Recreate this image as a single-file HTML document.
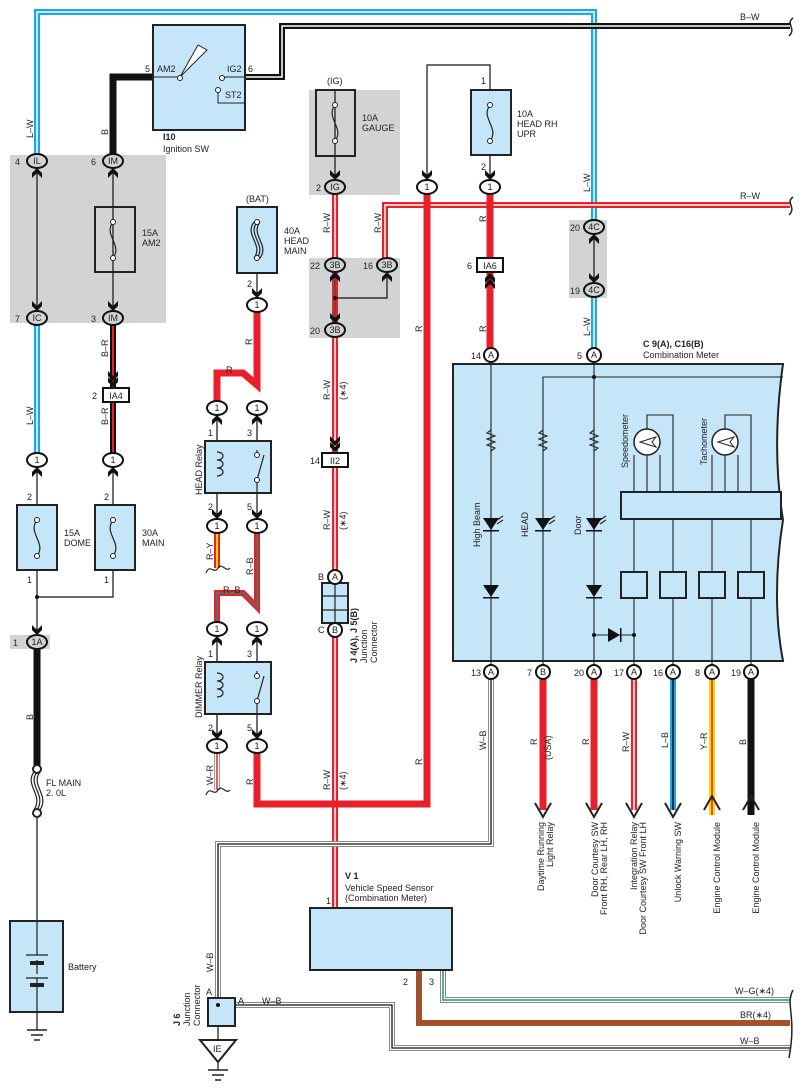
<!DOCTYPE html>
<html><head><meta charset="utf-8"><style>
html,body{margin:0;padding:0;background:#fff}
svg{display:block}
text{font-family:"Liberation Sans",sans-serif;font-size:9px;fill:#222}
.b{font-weight:bold}
</style></head><body>
<svg width="802" height="1091" viewBox="0 0 802 1091" xmlns="http://www.w3.org/2000/svg">
<defs>
<path id="ad" d="M-5,-10 L0,-5 L5,-10 L5,-5 L0,0 L-5,-5Z" fill="#111"/>
<path id="au" d="M-5,10 L0,5 L5,10 L5,5 L0,0 L-5,5Z" fill="#111"/>
</defs>
<rect x="10" y="155" width="156" height="168" fill="#d2d3d5"/>
<rect x="10" y="635" width="40" height="14" fill="#d2d3d5"/>
<rect x="309" y="90" width="91" height="105" fill="#d2d3d5"/>
<rect x="309" y="258" width="91" height="80" fill="#d2d3d5"/>
<rect x="569" y="220" width="38" height="78" fill="#d2d3d5"/>

<g fill="none" stroke-linejoin="miter">
<path d="M37,161 V12 H594 V227" stroke="#1ba6e8" stroke-width="6"/>
<path d="M37,161 V12 H594 V227" stroke="#fff" stroke-width="1.5"/>
<path d="M37,318 V460" stroke="#1ba6e8" stroke-width="6"/><path d="M37,318 V460" stroke="#fff" stroke-width="1.5"/>
<path d="M594,290 V355" stroke="#1ba6e8" stroke-width="6"/><path d="M594,290 V355" stroke="#fff" stroke-width="1.5"/>
<path d="M245,77 H282 V26 H790" stroke="#111" stroke-width="6"/>
<path d="M245,77 H282 V26 H790" stroke="#fff" stroke-width="1.5"/>
<path d="M153,77 H113 V161" stroke="#111" stroke-width="7"/>
<path d="M37,642 V765" stroke="#111" stroke-width="7"/>
<path d="M113,318 V460" stroke="#111" stroke-width="6"/><path d="M113,318 V460" stroke="#e8202a" stroke-width="2"/>
<path d="M335,187 V908" stroke="#e8202a" stroke-width="6"/><path d="M335,187 V908" stroke="#fff" stroke-width="1.5"/>
<path d="M385,265 V205 H790" stroke="#e8202a" stroke-width="6"/><path d="M385,265 V205 H790" stroke="#fff" stroke-width="1.5"/>
<path d="M257,305 V385 L243,373 H217 V408" stroke="#e8202a" stroke-width="7"/>
<path d="M257,746 V804 H427 V187" stroke="#e8202a" stroke-width="7"/>
<path d="M490,187 V355" stroke="#e8202a" stroke-width="7"/>
<path d="M217,526 V568" stroke="#e8202a" stroke-width="6"/><path d="M217,526 V568" stroke="#ffd800" stroke-width="2"/>
<path d="M217,746 V790" stroke="#999" stroke-width="6"/><path d="M217,746 V790" stroke="#fff" stroke-width="4"/><path d="M217,746 V790" stroke="#e8202a" stroke-width="1.5"/>
<path d="M257,526 V607 L243,593 H217 V629" stroke="#e8202a" stroke-width="6"/><path d="M257,526 V607 L243,593 H217 V629" stroke="#666" stroke-width="2"/>
<path d="M491,672 V844 H218 V1000" stroke="#888" stroke-width="6"/><path d="M491,672 V844 H218 V1000" stroke="#fff" stroke-width="4"/><path d="M491,672 V844 H218 V1000" stroke="#111" stroke-width="1.3"/>
<path d="M222,1005 H392 V1048 H790" stroke="#888" stroke-width="6"/><path d="M222,1005 H392 V1048 H790" stroke="#fff" stroke-width="4"/><path d="M222,1005 H392 V1048 H790" stroke="#111" stroke-width="1.3"/>
<path d="M443,970 V1000 H790" stroke="#888" stroke-width="6"/><path d="M443,970 V1000 H790" stroke="#fff" stroke-width="4"/><path d="M443,970 V1000 H790" stroke="#1a9f4a" stroke-width="1.5"/>
<path d="M419,970 V1023 H790" stroke="#a0522d" stroke-width="6"/>
<g stroke="#111" stroke-width="1.2">
<path d="M37,161 V318"/><path d="M113,161 V318"/>
<path d="M37,460 V642"/><path d="M113,460 V597 H37"/>
<path d="M37,813 V1030"/>
<path d="M257,207 V305"/>
<path d="M335,90 V187"/><path d="M335,265 V330"/><path d="M335,298 H387 V265"/>
<path d="M427,187 V65 H490 V187"/>
<path d="M594,227 V290"/>
<path d="M217,408 V526"/><path d="M257,408 V526"/>
<path d="M217,629 V746"/><path d="M257,629 V746"/>
<path d="M218,1000 V1040"/><path d="M218,1062 V1070"/>
</g>
</g>

<rect x="153" y="25" width="92" height="105" fill="#c5e6f8" stroke="#222" stroke-width="2"/>
<g stroke="#222" stroke-width="1" fill="none">
<path d="M153,77 H180"/><path d="M180,77 L198,45 L207,50 Z" fill="#fff"/>
<path d="M222,77 H245"/><path d="M218,92 V103 H245"/>
</g>
<circle cx="180" cy="78" r="2.5" fill="#fff" stroke="#222"/><circle cx="222" cy="78" r="2.5" fill="#fff" stroke="#222"/><circle cx="218" cy="90" r="2.5" fill="#fff" stroke="#222"/>
<text x="157" y="72">AM2</text><text x="227" y="72">IG2</text><text x="225" y="98">ST2</text>
<text x="145" y="72">5</text><text x="248" y="72">6</text>
<text x="163" y="140" class="b">I10</text><text x="163" y="152">Ignition SW</text>

<g fill="#c5e6f8" stroke="#222" stroke-width="2">
<rect x="95" y="207" width="40" height="65" fill="none"/>
<rect x="17" y="505" width="40" height="65"/>
<rect x="95" y="505" width="40" height="65"/>
<rect x="237" y="207" width="40" height="66"/>
<rect x="316" y="90" width="39" height="66" fill="none"/>
<rect x="471" y="90" width="40" height="65"/>
<rect x="205" y="441" width="66" height="52"/>
<rect x="205" y="662" width="66" height="52"/>
<rect x="322" y="583" width="26" height="40"/>
<rect x="310" y="908" width="142" height="62"/>
<rect x="208" y="998" width="27" height="28"/>
<rect x="10" y="921" width="53" height="91"/>
</g>
<g stroke="#222" stroke-width="1.2" fill="none">
<path d="M113,222 C103,235 123,245 113,258"/>
<path d="M37,520 C27,533 47,543 37,556"/>
<path d="M113,520 C103,533 123,543 113,556"/>
<path d="M335,105 C325,118 345,128 335,141"/>
<path d="M490,105 C480,118 500,128 490,141"/>
<path d="M257,222 C247,235 267,245 257,258 M254,222 C244,235 264,245 254,258 M260,222 C250,235 270,245 260,258"/>
<path d="M37,772 C27,785 47,795 37,810 M34,772 C24,785 44,795 34,810 M40,772 C30,785 50,795 40,810"/>
<path d="M335,583 V623 M322,596 H348 M322,610 H348"/>
<path d="M217,452 C225,452 225,460 217,460 C225,460 225,468 217,468 C225,468 225,476 217,476"/>
<path d="M217,673 C225,673 225,681 217,681 C225,681 225,689 217,689 C225,689 225,697 217,697"/>
<path d="M257,450 V455 M264,455 L257,480 M257,480 V493"/>
<path d="M257,671 V676 M264,676 L257,701 M257,701 V714"/>
<path d="M37,921 V955 M37,978 V1012 M26,955 H48 M26,978 H48 M37,960 V974" />
<path d="M206,573 C210,563 214,575 218,568 C222,562 226,573 230,568"/>
<path d="M206,795 C210,785 214,797 218,790 C222,784 226,795 230,790"/>
</g>
<rect x="30" y="961" width="14" height="4" fill="#222"/><rect x="30" y="983" width="14" height="4" fill="#222"/>
<g fill="#fff" stroke="#222">
<circle cx="113" cy="222" r="2.5"/><circle cx="113" cy="258" r="2.5"/>
<circle cx="37" cy="520" r="2.5"/><circle cx="37" cy="556" r="2.5"/>
<circle cx="113" cy="520" r="2.5"/><circle cx="113" cy="556" r="2.5"/>
<circle cx="335" cy="105" r="2.5"/><circle cx="335" cy="141" r="2.5"/>
<circle cx="490" cy="105" r="2.5"/><circle cx="490" cy="141" r="2.5"/>
<circle cx="257" cy="222" r="2.5"/><circle cx="257" cy="258" r="2.5"/>
<circle cx="257" cy="455" r="2.5"/><circle cx="257" cy="480" r="2.5"/>
<circle cx="257" cy="676" r="2.5"/><circle cx="257" cy="701" r="2.5"/>
<circle cx="37" cy="769" r="4" stroke-width="2"/><circle cx="37" cy="813" r="4" stroke-width="2"/>
</g>
<circle cx="37" cy="597" r="2" fill="#111"/><circle cx="335" cy="298" r="2" fill="#111"/><circle cx="218" cy="1005" r="2" fill="#111"/>
<g stroke="#222" stroke-width="1.5">
<path d="M27,1030 H47 M31,1035 H43 M34,1040 H40"/>
<path d="M208,1070 H228 M212,1075 H224 M215,1080 H221"/>
</g>
<path d="M200,1040 H236 L218,1062Z" fill="#fff" stroke="#222" stroke-width="2"/>
<text x="213" y="1052">IE</text>

<path d="M453,364 H783 C775,420 775,470 783,520 C775,570 775,620 783,661 H453Z" fill="#c5e6f8" stroke="#222" stroke-width="2"/>
<g stroke="#222" stroke-width="1.1" fill="none">
<path d="M491,355 V672"/><path d="M594,355 V672"/><path d="M543,672 V377 H783"/>
<path d="M491,430 l-4,3 8,3 -8,3 8,3 -8,3 8,3 -4,3"/>
<path d="M543,430 l-4,3 8,3 -8,3 8,3 -8,3 8,3 -4,3"/>
<path d="M594,430 l-4,3 8,3 -8,3 8,3 -8,3 8,3 -4,3"/>
<path d="M634,672 V594 M673,672 V594 M712,672 V594 M751,672 V594"/>
<path d="M634,572 V519 M673,572 V519 M712,572 V519 M751,572 V519"/>
<path d="M634,492 V455 M647,492 V415 H673 V492 M660,492 V455"/>
<path d="M712,492 V455 M725,492 V415 H751 V492 M738,492 V455"/>
<path d="M594,635 H634"/>
<path d="M497,520 l6,-4 M497,524 l6,-4 M549,520 l6,-4 M549,524 l6,-4 M600,520 l6,-4 M600,524 l6,-4"/>
</g>
<g fill="#fff" stroke="#222" stroke-width="1.5">
<circle cx="647" cy="442" r="13"/><circle cx="725" cy="442" r="13"/>
</g>
<path d="M640,442 L656,437 L652,442 L656,447Z M718,442 L734,437 L730,442 L734,447Z" fill="none" stroke="#222"/>
<rect x="621" y="492" width="160" height="27" fill="#c5e6f8" stroke="#222" stroke-width="2"/>
<g fill="#c5e6f8" stroke="#222" stroke-width="2">
<rect x="621" y="572" width="26" height="26"/><rect x="660" y="572" width="26" height="26"/><rect x="699" y="572" width="26" height="26"/><rect x="738" y="572" width="26" height="26"/>
</g>
<g fill="#111">
<path d="M483,518 H499 L491,530Z M535,518 H551 L543,530Z M586,518 H602 L594,530Z"/>
<path d="M483,585 H499 L491,597Z M586,585 H602 L594,597Z"/>
<path d="M608,628 V642 L620,635Z"/>
<rect x="483" y="530" width="16" height="1.5"/><rect x="535" y="530" width="16" height="1.5"/><rect x="586" y="530" width="16" height="1.5"/>
<rect x="483" y="597" width="16" height="1.5"/><rect x="586" y="597" width="16" height="1.5"/><rect x="620" y="628" width="1.5" height="14"/>
</g>
<circle cx="594" cy="377" r="2" fill="#111"/><circle cx="594" cy="635" r="2" fill="#111"/><circle cx="634" cy="635" r="2" fill="#111"/>
<g transform="rotate(-90)">
<text x="-547" y="480">High Beam</text><text x="-537" y="528">HEAD</text><text x="-535" y="581">Door</text>
<text x="-468" y="628">Speedometer</text><text x="-465" y="707">Tachometer</text>
</g>
<text x="643" y="347" class="b">C 9(A), C16(B)</text><text x="643" y="358">Combination Meter</text>

<g fill="none">
<path d="M543,672 V810" stroke="#e8202a" stroke-width="7"/>
<path d="M594,672 V810" stroke="#e8202a" stroke-width="7"/>
<path d="M634,672 V810" stroke="#e8202a" stroke-width="6"/><path d="M634,672 V810" stroke="#fff" stroke-width="1.5"/>
<path d="M673,672 V810" stroke="#1ba6e8" stroke-width="6"/><path d="M673,672 V810" stroke="#111" stroke-width="1.5"/>
<path d="M712,672 V815" stroke="#ffd800" stroke-width="6"/><path d="M712,672 V815" stroke="#e8202a" stroke-width="1.5"/>
<path d="M751,672 V815" stroke="#111" stroke-width="7"/>
<g stroke="#222" stroke-width="2">
<path d="M535,803 L543,817 L551,803 M586,803 L594,817 L602,803 M626,803 L634,817 L642,803 M665,803 L673,817 L681,803"/>
<path d="M704,810 L712,796 L720,810 M743,810 L751,796 L759,810"/>
</g>
</g>

<g fill="#fff" stroke="#111" stroke-width="2">
<ellipse cx="37" cy="161" rx="10" ry="7" fill="#d2d3d5"/><ellipse cx="113" cy="161" rx="10" ry="7" fill="#d2d3d5"/>
<ellipse cx="37" cy="318" rx="10" ry="7" fill="#d2d3d5"/><ellipse cx="113" cy="318" rx="10" ry="7" fill="#d2d3d5"/>
<ellipse cx="37" cy="642" rx="10" ry="7" fill="#d2d3d5"/>
<ellipse cx="335" cy="187" rx="10" ry="7" fill="#d2d3d5"/>
<ellipse cx="335" cy="265" rx="10" ry="7" fill="#d2d3d5"/><ellipse cx="387" cy="265" rx="10" ry="7" fill="#d2d3d5"/><ellipse cx="335" cy="330" rx="10" ry="7" fill="#d2d3d5"/>
<ellipse cx="594" cy="227" rx="10" ry="7" fill="#d2d3d5"/><ellipse cx="594" cy="290" rx="10" ry="7" fill="#d2d3d5"/>
<ellipse cx="37" cy="460" rx="10" ry="7"/><ellipse cx="113" cy="460" rx="10" ry="7"/>
<ellipse cx="257" cy="305" rx="10" ry="7"/>
<ellipse cx="217" cy="408" rx="10" ry="7"/><ellipse cx="257" cy="408" rx="10" ry="7"/>
<ellipse cx="217" cy="526" rx="10" ry="7"/><ellipse cx="257" cy="526" rx="10" ry="7"/>
<ellipse cx="217" cy="629" rx="10" ry="7"/><ellipse cx="257" cy="629" rx="10" ry="7"/>
<ellipse cx="217" cy="746" rx="10" ry="7"/><ellipse cx="257" cy="746" rx="10" ry="7"/>
<ellipse cx="427" cy="187" rx="10" ry="7"/><ellipse cx="490" cy="187" rx="10" ry="7"/>
<circle cx="491" cy="355" r="7"/><circle cx="594" cy="355" r="7"/>
<circle cx="491" cy="672" r="7"/><circle cx="543" cy="672" r="7"/><circle cx="594" cy="672" r="7"/><circle cx="634" cy="672" r="7"/><circle cx="673" cy="672" r="7"/><circle cx="712" cy="672" r="7"/><circle cx="751" cy="672" r="7"/>
<circle cx="335" cy="577" r="7"/><circle cx="335" cy="630" r="7"/>
<rect x="103" y="388" width="26" height="14"/><rect x="477" y="258" width="26" height="14"/><rect x="322" y="453" width="26" height="14"/>
</g>
<g font-size="9" text-anchor="middle">
<text x="37" y="164">IL</text><text x="113" y="164">IM</text><text x="37" y="321">IC</text><text x="113" y="321">IM</text><text x="37" y="645">1A</text>
<text x="335" y="190">IG</text><text x="335" y="268">3B</text><text x="387" y="268">3B</text><text x="335" y="333">3B</text>
<text x="594" y="230">4C</text><text x="594" y="293">4C</text>
<text x="37" y="463">1</text><text x="113" y="463">1</text><text x="257" y="308">1</text>
<text x="217" y="411">1</text><text x="257" y="411">1</text><text x="217" y="529">1</text><text x="257" y="529">1</text>
<text x="217" y="632">1</text><text x="257" y="632">1</text><text x="217" y="749">1</text><text x="257" y="749">1</text>
<text x="427" y="190">1</text><text x="490" y="190">1</text>
<text x="491" y="358">A</text><text x="594" y="358">A</text>
<text x="491" y="675">A</text><text x="543" y="675">B</text><text x="594" y="675">A</text><text x="634" y="675">A</text><text x="673" y="675">A</text><text x="712" y="675">A</text><text x="751" y="675">A</text>
<text x="335" y="580">A</text><text x="335" y="633">B</text>
<text x="116" y="399">IA4</text><text x="490" y="269">IA6</text><text x="335" y="464">II2</text>
</g>
<use href="#au" x="37" y="168"/><use href="#ad" x="37" y="311"/>
<use href="#au" x="113" y="168"/><use href="#ad" x="113" y="311"/>
<use href="#ad" x="113" y="387"/><use href="#ad" x="113" y="381"/>
<use href="#au" x="37" y="467"/><use href="#au" x="113" y="467"/>
<use href="#ad" x="37" y="635"/>
<use href="#ad" x="335" y="180"/><use href="#au" x="335" y="272"/><use href="#au" x="387" y="272"/><use href="#ad" x="335" y="323"/>
<use href="#au" x="594" y="234"/><use href="#ad" x="594" y="283"/>
<use href="#ad" x="427" y="180"/><use href="#ad" x="490" y="180"/>
<use href="#au" x="490" y="273"/><use href="#au" x="490" y="279"/>
<use href="#ad" x="335" y="452"/><use href="#ad" x="335" y="446"/>
<use href="#ad" x="257" y="298"/>
<use href="#au" x="217" y="415"/><use href="#au" x="257" y="415"/><use href="#ad" x="217" y="519"/><use href="#ad" x="257" y="519"/>
<use href="#au" x="217" y="636"/><use href="#au" x="257" y="636"/><use href="#ad" x="217" y="739"/><use href="#ad" x="257" y="739"/>

<text x="15" y="165">4</text><text x="91" y="165">6</text><text x="15" y="322">7</text><text x="91" y="322">3</text>
<text x="13" y="646">1</text><text x="92" y="399">2</text>
<text x="27" y="500">2</text><text x="104" y="500">2</text><text x="27" y="583">1</text><text x="104" y="583">1</text>
<text x="247" y="287">2</text><text x="316" y="191">2</text><text x="310" y="269">22</text><text x="363" y="269">16</text><text x="310" y="334">20</text>
<text x="570" y="231">20</text><text x="570" y="294">19</text>
<text x="481" y="84">1</text><text x="481" y="170">2</text><text x="467" y="269">6</text><text x="310" y="464">14</text>
<text x="208" y="436">1</text><text x="247" y="436">3</text><text x="208" y="510">2</text><text x="247" y="510">5</text>
<text x="208" y="657">1</text><text x="247" y="657">3</text><text x="208" y="731">2</text><text x="247" y="731">5</text>
<text x="471" y="359">14</text><text x="577" y="359">5</text>
<text x="471" y="676">13</text><text x="527" y="676">7</text><text x="574" y="676">20</text><text x="614" y="676">17</text><text x="653" y="676">16</text><text x="695" y="676">8</text><text x="731" y="676">19</text>
<text x="318" y="580">B</text><text x="318" y="633">C</text>
<text x="326" y="904">1</text><text x="403" y="985">2</text><text x="429" y="985">3</text>
<text x="206" y="995">A</text><text x="238" y="1004">A</text>
<text x="142" y="236">15A</text><text x="142" y="246">AM2</text>
<text x="64" y="536">15A</text><text x="64" y="546">DOME</text><text x="142" y="536">30A</text><text x="142" y="546">MAIN</text>
<text x="284" y="234">40A</text><text x="284" y="244">HEAD</text><text x="284" y="254">MAIN</text><text x="246" y="202">(BAT)</text>
<text x="327" y="84">(IG)</text><text x="362" y="121">10A</text><text x="362" y="131">GAUGE</text>
<text x="517" y="117">10A</text><text x="517" y="127">HEAD RH</text><text x="517" y="137">UPR</text>
<text x="46" y="786">FL MAIN</text><text x="46" y="796">2. 0L</text>
<text x="68" y="970">Battery</text>
<text x="226" y="373">R</text><text x="223" y="593">R–B</text>
<text x="345" y="879" class="b">V 1</text><text x="345" y="891">Vehicle Speed Sensor</text><text x="345" y="901">(Combination Meter)</text>
<text x="262" y="1004">W–B</text>
<text x="740" y="20">B–W</text><text x="740" y="199">R–W</text>
<text x="735" y="994">W–G(∗4)</text><text x="740" y="1018">BR(∗4)</text><text x="740" y="1044">W–B</text>
<g transform="rotate(-90)">
<text x="-138" y="33">L–W</text><text x="-135" y="108">B</text><text x="-357" y="108">B–R</text><text x="-425" y="108">B–R</text><text x="-425" y="33">L–W</text>
<text x="-720" y="33">B</text><text x="-345" y="252">R</text><text x="-233" y="330">R–W</text><text x="-233" y="381">R–W</text>
<text x="-400" y="330">R–W</text><text x="-400" y="346">(∗4)</text><text x="-530" y="330">R–W</text><text x="-530" y="346">(∗4)</text>
<text x="-790" y="330">R–W</text><text x="-790" y="346">(∗4)</text>
<text x="-222" y="486">R</text><text x="-332" y="486">R</text><text x="-332" y="422">R</text><text x="-765" y="422">R</text>
<text x="-192" y="590">L–W</text><text x="-336" y="590">L–W</text>
<text x="-495" y="202">HEAD Relay</text><text x="-718" y="202">DIMMER Relay</text>
<text x="-560" y="213">R–Y</text><text x="-575" y="253">R–B</text><text x="-785" y="213">W–R</text><text x="-785" y="253">R</text>
<text x="-663" y="357" class="b">J 4(A), J 5(B)</text><text x="-663" y="367">Junction</text><text x="-663" y="377">Connector</text>
<text x="-1026" y="180" class="b">J 6</text><text x="-1026" y="190">Junction</text><text x="-1026" y="200">Connector</text>
<text x="-972" y="213">W–B</text><text x="-750" y="486">W–B</text>
<text x="-745" y="537">R</text><text x="-760" y="551">(USA)</text><text x="-745" y="589">R</text><text x="-752" y="629">R–W</text>
<text x="-748" y="668">L–B</text><text x="-750" y="707">Y–R</text><text x="-745" y="746">B</text>
<g text-anchor="end" font-size="10">
<text x="-822" y="544">Daytime Running</text><text x="-822" y="553">Light Relay</text>
<text x="-822" y="598">Door Courtesy SW</text><text x="-822" y="607">Front RH,  Rear LH,  RH</text>
<text x="-822" y="637">Integration Relay</text><text x="-822" y="646">Door Courtesy SW Front LH</text>
<text x="-822" y="681">Unlock Warning SW</text>
<text x="-822" y="720">Engine Control Module</text><text x="-822" y="759">Engine Control Module</text>
</g>
</g>
<g stroke="#222" stroke-width="1.5" fill="none">
<path d="M793,18 C785,24 797,28 789,36"/><path d="M793,197 C785,203 797,207 789,215"/>
<path d="M793,990 C785,1005 797,1015 789,1058"/>
</g>
</svg>
</body></html>
